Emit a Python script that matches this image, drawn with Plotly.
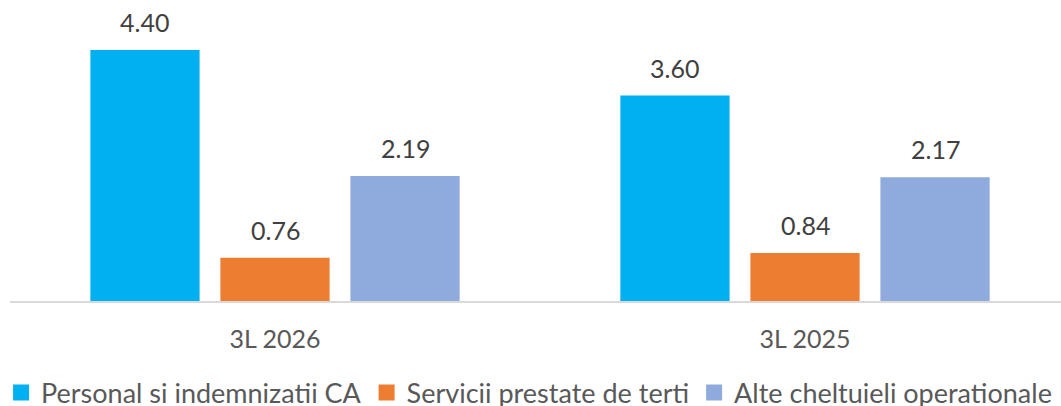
import plotly.graph_objects as go

categories = ["3L 2026", "3L 2025"]
series_names = ["Personal si indemnizatii CA", "Servicii prestate de terti", "Alte cheltuieli operationale"]
personal = [4.40, 3.60]
servicii = [0.76, 0.84]
alte = [2.19, 2.17]
colors = ["#00B0F0", "#ED7D31", "#8FAADC"]

values = [personal, servicii, alte]
FONT = "Lato"
BARGAP = 0.264
BARGROUPGAP = 0.16

fig = go.Figure()
for name, vals, col in zip(series_names, values, colors):
    fig.add_trace(go.Bar(
        x=categories, y=vals, name=name, marker_color=col, showlegend=False,
    ))
for name, col in zip(series_names, colors):
    fig.add_trace(go.Scatter(
        x=[None], y=[None], mode="markers", name=name,
        marker=dict(symbol="square", size=17, color=col),
    ))

# value labels centred over each bar (slot offsets derived from the bar gaps)
n = len(values)
slot = (1 - BARGAP) / n
for k, vals in enumerate(values):
    for i, v in enumerate(vals):
        fig.add_annotation(
            x=i + (k - (n - 1) / 2) * slot, y=v, xref="x", yref="y",
            text=f"{v:.2f}", showarrow=False, yanchor="bottom", yshift=11,
            font=dict(family=FONT, size=25, color="#404040"),
        )

fig.update_layout(
    template="none",
    width=1061, height=406,
    margin=dict(l=10, r=0, t=0, b=105),
    paper_bgcolor="white", plot_bgcolor="white",
    barmode="group", bargap=BARGAP, bargroupgap=BARGROUPGAP,
    font=dict(family=FONT, color="#595959", size=25),
    xaxis=dict(range=[-0.5, 1.483], showline=True, linecolor="#D9D9D9", linewidth=2,
               showgrid=False, zeroline=False, ticks="", ticklabelstandoff=15, automargin=False,
               tickfont=dict(family=FONT, size=25, color="#595959")),
    yaxis=dict(range=[0, 5.276], visible=False, showgrid=False, zeroline=False, automargin=False),
    legend=dict(orientation="h", xref="container", yref="container",
                x=0.001, xanchor="left", y=(406 - 393) / 406, yanchor="middle",
                font=dict(family=FONT, size=27, color="#595959"), itemsizing="trace",
                itemwidth=30, bgcolor="rgba(0,0,0,0)"),
)
fig.write_html("out.html", config={"displayModeBar": False},
               post_script="document.body.style.margin='0';")
